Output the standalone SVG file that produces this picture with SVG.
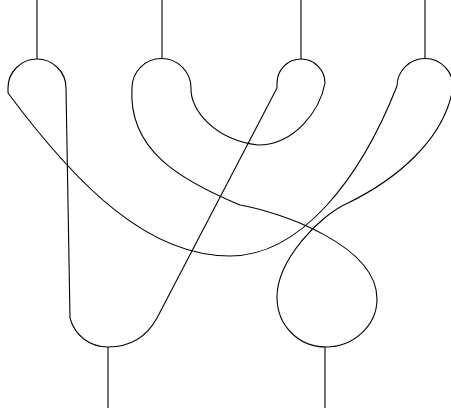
<svg xmlns="http://www.w3.org/2000/svg" width="451" height="408" viewBox="0 0 451 408">
<style>
path,line{fill:none;stroke:#000;stroke-width:1.1}
</style>
<rect width="451" height="408" fill="#fff"/>
<g id="node-top1">
<line x1="37" y1="0" x2="37" y2="59"/>
<path d="M8,93 L8,88 A29,29 0 0 1 66,88"/>
</g>
<g id="node-top2">
<line x1="162" y1="0" x2="162" y2="59"/>
<path d="M132,88 A29.5,29.5 0 0 1 191,88"/>
</g>
<g id="node-top3">
<line x1="301" y1="0" x2="301" y2="59"/>
<path d="M277,88 L277,83 A24,24 0 0 1 325,83"/>
</g>
<g id="node-top4">
<line x1="425" y1="0" x2="425" y2="59"/>
<path d="M397,86 A28,28 0 0 1 453,87"/>
</g>
<g id="node-bottom1">
<path d="M70,318 C75,336 90,347 108,347 C128,347 146,338 157,318"/>
<line x1="108" y1="347" x2="108" y2="408"/>
</g>
<g id="node-bottom2">
<path d="M277,297 C277,325 298,347 326,347 C353,347 377,326 377,299"/>
<line x1="325" y1="347" x2="325" y2="408"/>
</g>
<g id="connectors">
<path d="M66,88 L70,318"/>
<path d="M8,93 C80,190 150,256 230,256 C300,256 360,180 397,86"/>
<path d="M132,88 C128,150 180,180 240,205 C280,212 377,245 377,299"/>
<path d="M277,297 C277,260 320,215 348,203 C395,180 445,140 453,87"/>
<path d="M191,88 C190,110 215,140 258,145 C295,145 320,110 325,83"/>
<path d="M277,88 L157,318"/>
</g>
</svg>
